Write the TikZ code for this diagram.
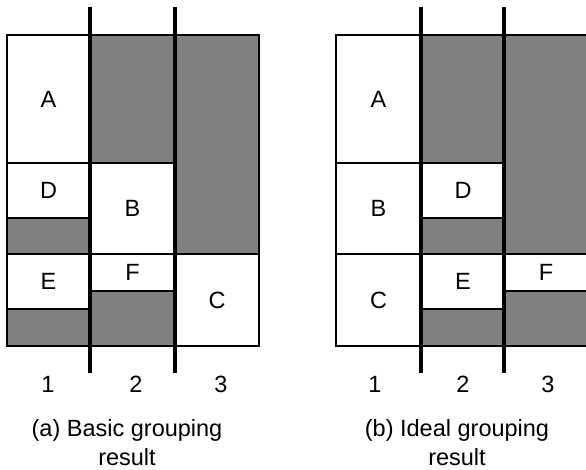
\documentclass[tikz,border=0pt]{standalone}
\usepackage{fontspec}
\setmainfont{Liberation Sans}
\begin{document}
\begin{tikzpicture}[x=1pt,y=-1pt,
  cell/.style={draw=black, fill=white, line width=1.3pt, inner sep=0pt, outer sep=0pt,
    anchor=north west, font=\fontsize{23.5}{28}\selectfont},
  shade/.style={fill=black!50},
  frame/.style={draw=black, line width=1.3pt},
  divider/.style={draw=black, line width=3.2pt},
  colnum/.style={font=\fontsize{23.5}{28}\selectfont, inner sep=0pt},
  caption/.style={font=\fontsize{23.5}{29}\selectfont, align=center, inner sep=0pt}]
\useasboundingbox (0,0) rectangle (586,470);
\clip (0,0) rectangle (586,470);

% ---------- (a) basic grouping ----------
\fill[shade] (7,35) rectangle (259,346);
\node[cell, minimum width=83pt, minimum height=128pt] (a-A) at (7,35) {A};
\node[cell, minimum width=83pt, minimum height=55pt]  (a-D) at (7,163) {D};
\node[cell, minimum width=83pt, minimum height=55pt]  (a-E) at (7,254) {E};
\node[cell, minimum width=85pt, minimum height=91pt]  (a-B) at (90,163) {B};
\node[cell, minimum width=85pt, minimum height=37pt]  (a-F) at (90,254) {F};
\node[cell, minimum width=84pt, minimum height=92pt]  (a-C) at (175,254) {C};
\draw[frame] (7,35) rectangle (259,346);
\coordinate (a-t1) at (90,7);   \coordinate (a-b1) at (90,373);
\coordinate (a-t2) at (175,7);  \coordinate (a-b2) at (175,373);
\draw[divider] (a-t1) -- (a-b1);
\draw[divider] (a-t2) -- (a-b2);
\node[colnum] (a-n1) at (48,384) {1};
\node[colnum] (a-n2) at (136,384) {2};
\node[colnum] (a-n3) at (221,384) {3};
\node[caption] (a-cap) at (127,443) {(a) Basic grouping\\result};

% ---------- (b) ideal grouping ----------
\fill[shade] (336,35) rectangle (588,346);
\node[cell, minimum width=85pt, minimum height=128pt] (b-A) at (336,35) {A};
\node[cell, minimum width=85pt, minimum height=91pt]  (b-B) at (336,163) {B};
\node[cell, minimum width=85pt, minimum height=92pt]  (b-C) at (336,254) {C};
\node[cell, minimum width=84pt, minimum height=55pt]  (b-D) at (421,163) {D};
\node[cell, minimum width=84pt, minimum height=55pt]  (b-E) at (421,254) {E};
\node[cell, minimum width=84pt, minimum height=37pt]  (b-F) at (504,254) {F};
\draw[frame] (336,35) rectangle (588,346);
\coordinate (b-t1) at (421,7);  \coordinate (b-b1) at (421,373);
\coordinate (b-t2) at (504,7);  \coordinate (b-b2) at (504,373);
\draw[divider] (b-t1) -- (b-b1);
\draw[divider] (b-t2) -- (b-b2);
\node[colnum] (b-n1) at (375,384) {1};
\node[colnum] (b-n2) at (463,384) {2};
\node[colnum] (b-n3) at (548,384) {3};
\node[caption] (b-cap) at (457,443) {(b) Ideal grouping\\result};
\end{tikzpicture}
\end{document}
